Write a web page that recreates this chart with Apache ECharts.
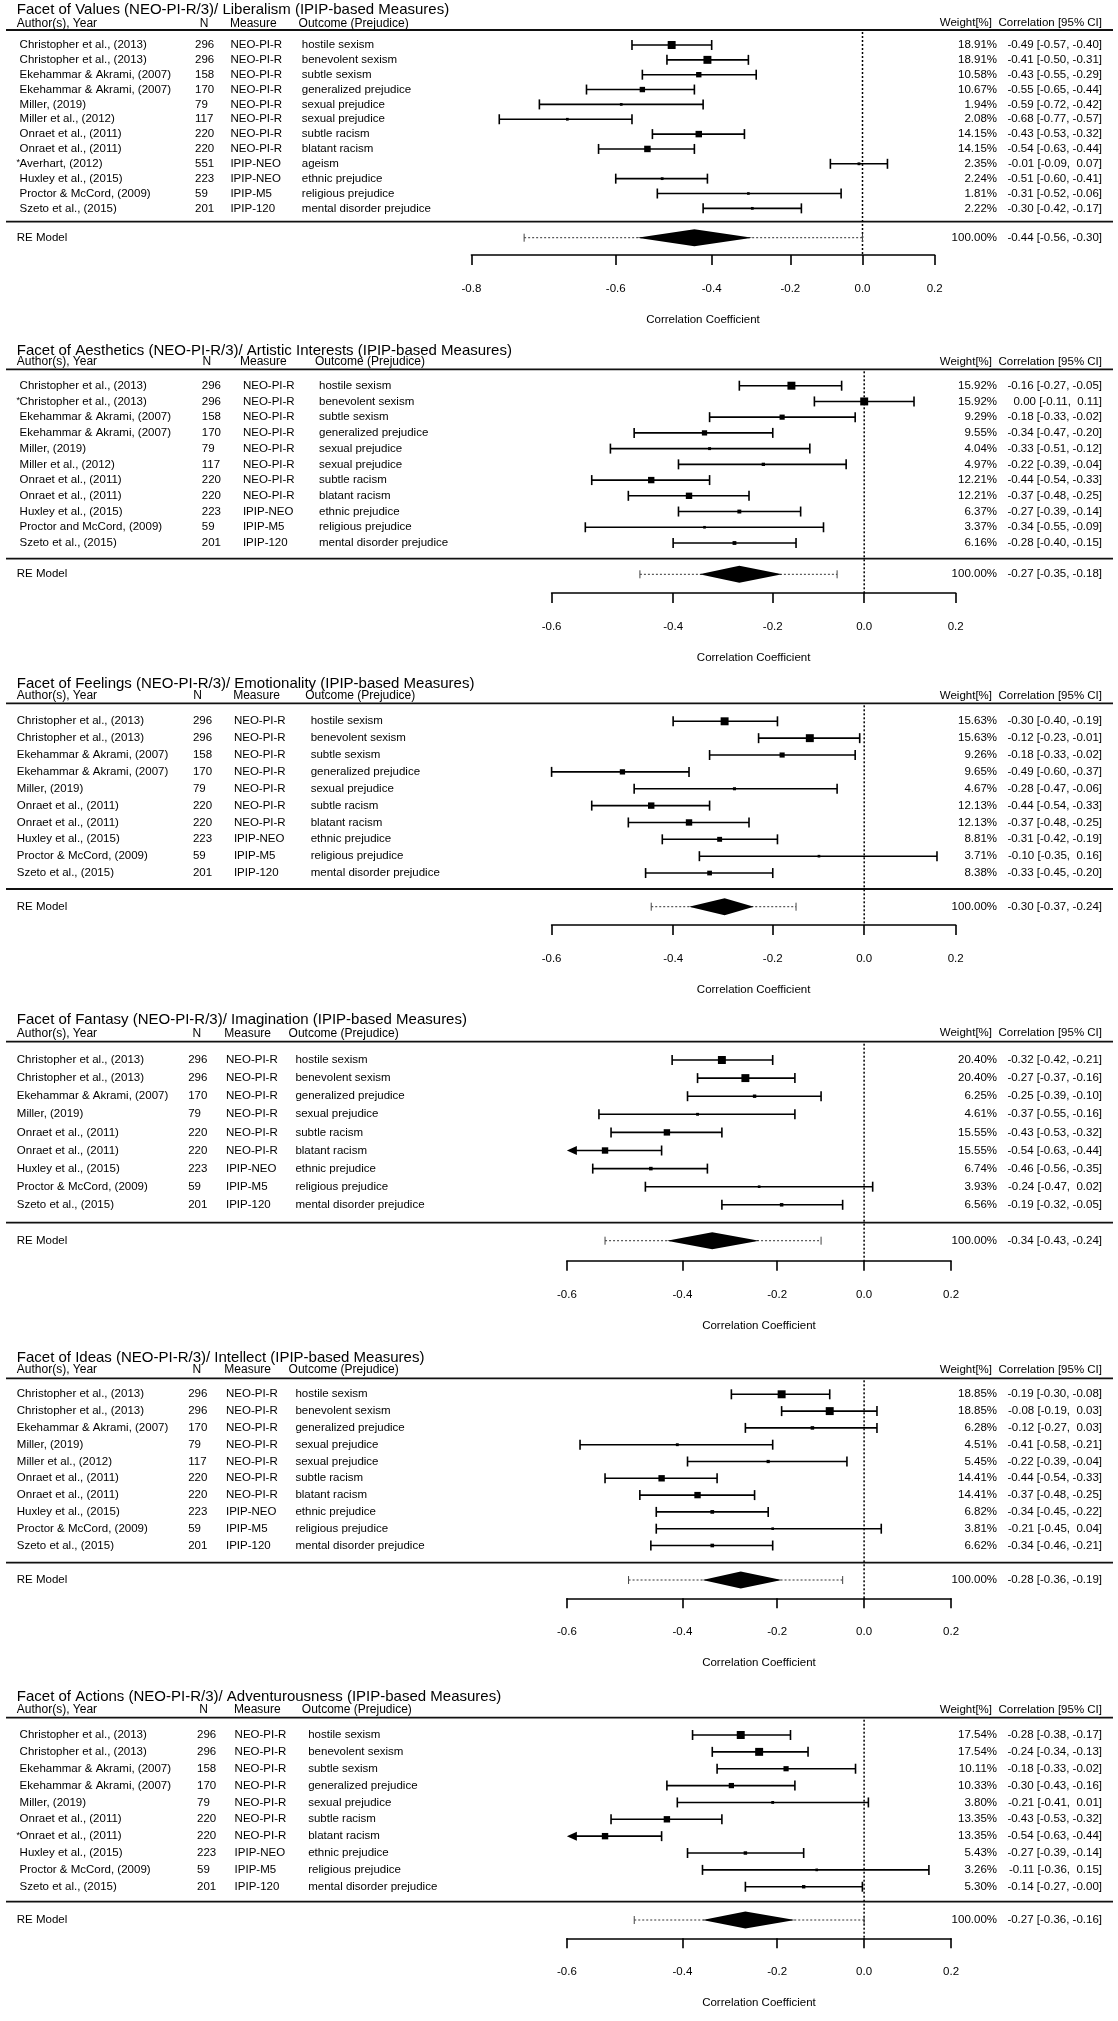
<!DOCTYPE html>
<html><head><meta charset="utf-8">
<script src="https://cdn.jsdelivr.net/npm/echarts@6/dist/echarts.min.js"></script>
<style>html,body{margin:0;padding:0;background:#fff}#c{width:1118px;height:2021px}</style>
</head><body><div id="c"></div>
<script>
// ---------------- DATA ----------------
const panelTitles = [
  "Facet of Values (NEO-PI-R/3)/ Liberalism (IPIP-based Measures)",
  "Facet of Aesthetics (NEO-PI-R/3)/ Artistic Interests (IPIP-based Measures)",
  "Facet of Feelings (NEO-PI-R/3)/ Emotionality (IPIP-based Measures)",
  "Facet of Fantasy (NEO-PI-R/3)/ Imagination (IPIP-based Measures)",
  "Facet of Ideas (NEO-PI-R/3)/ Intellect (IPIP-based Measures)",
  "Facet of Actions (NEO-PI-R/3)/ Adventurousness (IPIP-based Measures)"
];
const tickLabels = [
  [-0.8, -0.6, -0.4, -0.2, 0.0, 0.2],
  [-0.6, -0.4, -0.2, 0.0, 0.2],
  [-0.6, -0.4, -0.2, 0.0, 0.2],
  [-0.6, -0.4, -0.2, 0.0, 0.2],
  [-0.6, -0.4, -0.2, 0.0, 0.2],
  [-0.6, -0.4, -0.2, 0.0, 0.2]
];
const authors = [
  ["Christopher et al., (2013)","Christopher et al., (2013)","Ekehammar & Akrami, (2007)","Ekehammar & Akrami, (2007)","Miller, (2019)","Miller et al., (2012)","Onraet et al., (2011)","Onraet et al., (2011)","*Averhart, (2012)","Huxley et al., (2015)","Proctor & McCord, (2009)","Szeto et al., (2015)"],
  ["Christopher et al., (2013)","*Christopher et al., (2013)","Ekehammar & Akrami, (2007)","Ekehammar & Akrami, (2007)","Miller, (2019)","Miller et al., (2012)","Onraet et al., (2011)","Onraet et al., (2011)","Huxley et al., (2015)","Proctor and McCord, (2009)","Szeto et al., (2015)"],
  ["Christopher et al., (2013)","Christopher et al., (2013)","Ekehammar & Akrami, (2007)","Ekehammar & Akrami, (2007)","Miller, (2019)","Onraet et al., (2011)","Onraet et al., (2011)","Huxley et al., (2015)","Proctor & McCord, (2009)","Szeto et al., (2015)"],
  ["Christopher et al., (2013)","Christopher et al., (2013)","Ekehammar & Akrami, (2007)","Miller, (2019)","Onraet et al., (2011)","Onraet et al., (2011)","Huxley et al., (2015)","Proctor & McCord, (2009)","Szeto et al., (2015)"],
  ["Christopher et al., (2013)","Christopher et al., (2013)","Ekehammar & Akrami, (2007)","Miller, (2019)","Miller et al., (2012)","Onraet et al., (2011)","Onraet et al., (2011)","Huxley et al., (2015)","Proctor & McCord, (2009)","Szeto et al., (2015)"],
  ["Christopher et al., (2013)","Christopher et al., (2013)","Ekehammar & Akrami, (2007)","Ekehammar & Akrami, (2007)","Miller, (2019)","Onraet et al., (2011)","*Onraet et al., (2011)","Huxley et al., (2015)","Proctor & McCord, (2009)","Szeto et al., (2015)"]
];
const sampleN = [
  [296,296,158,170,79,117,220,220,551,223,59,201],
  [296,296,158,170,79,117,220,220,223,59,201],
  [296,296,158,170,79,220,220,223,59,201],
  [296,296,170,79,220,220,223,59,201],
  [296,296,170,79,117,220,220,223,59,201],
  [296,296,158,170,79,220,220,223,59,201]
];
const measures = [
  ["NEO-PI-R","NEO-PI-R","NEO-PI-R","NEO-PI-R","NEO-PI-R","NEO-PI-R","NEO-PI-R","NEO-PI-R","IPIP-NEO","IPIP-NEO","IPIP-M5","IPIP-120"],
  ["NEO-PI-R","NEO-PI-R","NEO-PI-R","NEO-PI-R","NEO-PI-R","NEO-PI-R","NEO-PI-R","NEO-PI-R","IPIP-NEO","IPIP-M5","IPIP-120"],
  ["NEO-PI-R","NEO-PI-R","NEO-PI-R","NEO-PI-R","NEO-PI-R","NEO-PI-R","NEO-PI-R","IPIP-NEO","IPIP-M5","IPIP-120"],
  ["NEO-PI-R","NEO-PI-R","NEO-PI-R","NEO-PI-R","NEO-PI-R","NEO-PI-R","IPIP-NEO","IPIP-M5","IPIP-120"],
  ["NEO-PI-R","NEO-PI-R","NEO-PI-R","NEO-PI-R","NEO-PI-R","NEO-PI-R","NEO-PI-R","IPIP-NEO","IPIP-M5","IPIP-120"],
  ["NEO-PI-R","NEO-PI-R","NEO-PI-R","NEO-PI-R","NEO-PI-R","NEO-PI-R","NEO-PI-R","IPIP-NEO","IPIP-M5","IPIP-120"]
];
const outcomes = [
  ["hostile sexism","benevolent sexism","subtle sexism","generalized prejudice","sexual prejudice","sexual prejudice","subtle racism","blatant racism","ageism","ethnic prejudice","religious prejudice","mental disorder prejudice"],
  ["hostile sexism","benevolent sexism","subtle sexism","generalized prejudice","sexual prejudice","sexual prejudice","subtle racism","blatant racism","ethnic prejudice","religious prejudice","mental disorder prejudice"],
  ["hostile sexism","benevolent sexism","subtle sexism","generalized prejudice","sexual prejudice","subtle racism","blatant racism","ethnic prejudice","religious prejudice","mental disorder prejudice"],
  ["hostile sexism","benevolent sexism","generalized prejudice","sexual prejudice","subtle racism","blatant racism","ethnic prejudice","religious prejudice","mental disorder prejudice"],
  ["hostile sexism","benevolent sexism","generalized prejudice","sexual prejudice","sexual prejudice","subtle racism","blatant racism","ethnic prejudice","religious prejudice","mental disorder prejudice"],
  ["hostile sexism","benevolent sexism","subtle sexism","generalized prejudice","sexual prejudice","subtle racism","blatant racism","ethnic prejudice","religious prejudice","mental disorder prejudice"]
];
const estimates = [
  [-0.49,-0.41,-0.43,-0.55,-0.59,-0.68,-0.43,-0.54,-0.01,-0.51,-0.31,-0.30],
  [-0.16,0.00,-0.18,-0.34,-0.33,-0.22,-0.44,-0.37,-0.27,-0.34,-0.28],
  [-0.30,-0.12,-0.18,-0.49,-0.28,-0.44,-0.37,-0.31,-0.10,-0.33],
  [-0.32,-0.27,-0.25,-0.37,-0.43,-0.54,-0.46,-0.24,-0.19],
  [-0.19,-0.08,-0.12,-0.41,-0.22,-0.44,-0.37,-0.34,-0.21,-0.34],
  [-0.28,-0.24,-0.18,-0.30,-0.21,-0.43,-0.54,-0.27,-0.11,-0.14]
];
const ciLower = [
  [-0.57,-0.50,-0.55,-0.65,-0.72,-0.77,-0.53,-0.63,-0.09,-0.60,-0.52,-0.42],
  [-0.27,-0.11,-0.33,-0.47,-0.51,-0.39,-0.54,-0.48,-0.39,-0.55,-0.40],
  [-0.40,-0.23,-0.33,-0.60,-0.47,-0.54,-0.48,-0.42,-0.35,-0.45],
  [-0.42,-0.37,-0.39,-0.55,-0.53,-0.63,-0.56,-0.47,-0.32],
  [-0.30,-0.19,-0.27,-0.58,-0.39,-0.54,-0.48,-0.45,-0.45,-0.46],
  [-0.38,-0.34,-0.33,-0.43,-0.41,-0.53,-0.63,-0.39,-0.36,-0.27]
];
const ciUpper = [
  [-0.40,-0.31,-0.29,-0.44,-0.42,-0.57,-0.32,-0.44,0.07,-0.41,-0.06,-0.17],
  [-0.05,0.11,-0.02,-0.20,-0.12,-0.04,-0.33,-0.25,-0.14,-0.09,-0.15],
  [-0.19,-0.01,-0.02,-0.37,-0.06,-0.33,-0.25,-0.19,0.16,-0.20],
  [-0.21,-0.16,-0.10,-0.16,-0.32,-0.44,-0.35,0.02,-0.05],
  [-0.08,0.03,0.03,-0.21,-0.04,-0.33,-0.25,-0.22,0.04,-0.21],
  [-0.17,-0.13,-0.02,-0.16,0.01,-0.32,-0.44,-0.14,0.15,-0.004]
];
const weights = [
  [18.91,18.91,10.58,10.67,1.94,2.08,14.15,14.15,2.35,2.24,1.81,2.22],
  [15.92,15.92,9.29,9.55,4.04,4.97,12.21,12.21,6.37,3.37,6.16],
  [15.63,15.63,9.26,9.65,4.67,12.13,12.13,8.81,3.71,8.38],
  [20.40,20.40,6.25,4.61,15.55,15.55,6.74,3.93,6.56],
  [18.85,18.85,6.28,4.51,5.45,14.41,14.41,6.82,3.81,6.62],
  [17.54,17.54,10.11,10.33,3.80,13.35,13.35,5.43,3.26,5.30]
];
const reEstimate = [-0.44,-0.27,-0.30,-0.34,-0.28,-0.27];
const reLower    = [-0.56,-0.35,-0.37,-0.43,-0.36,-0.36];
const reUpper    = [-0.30,-0.18,-0.24,-0.24,-0.19,-0.16];
const piLower    = [-0.74,-0.46,-0.44,-0.54,-0.50,-0.49];
const piUpper    = [0.00,-0.06,-0.15,-0.10,-0.05,0.00];

// ---------------- LAYOUT ----------------
const FONT = "'Liberation Sans', Arial, Helvetica, sans-serif";
const layout = [
  {titleY:10,    headerY:23.3,  lineTop:30,     firstRow:45,     step:14.85, lineBot:221.7,  reY:237.7,  axisY:255,    zero:862.5, scale:356,   aX:19.6, nX:195,   mX:230.4, oX:301.8, hN:204,   hM:230,   hO:298.6},
  {titleY:351,   headerY:361.7, lineTop:369.3,  firstRow:385.7,  step:15.73, lineBot:558.7,  reY:574.3,  axisY:593,    zero:864.2, scale:451,   aX:19.6, nX:201.8, mX:242.9, oX:319,   hN:206.8, hM:240,   hO:315},
  {titleY:684.3, headerY:696,   lineTop:703.3,  firstRow:721.3,  step:16.86, lineBot:889,    reY:906.7,  axisY:925,    zero:864.2, scale:451,   aX:16.8, nX:192.9, mX:233.9, oX:310.7, hN:197.5, hM:233.2, hO:305.2},
  {titleY:1020,  headerY:1033.3,lineTop:1041.7, firstRow:1060,   step:18.1,  lineBot:1222.7, reY:1240.7, axisY:1260.7, zero:864.1, scale:428.8, aX:16.8, nX:188.2, mX:226,   oX:295.4, hN:196.8, hM:224.3, hO:288.6},
  {titleY:1357.5,headerY:1370,  lineTop:1378.3, firstRow:1394.3, step:16.8,  lineBot:1562.7, reY:1580,   axisY:1598.3, zero:864.1, scale:428.8, aX:16.8, nX:188.2, mX:226,   oX:295.4, hN:196.8, hM:224.3, hO:288.6},
  {titleY:1696.7,headerY:1710,  lineTop:1717.7, firstRow:1735,   step:16.86, lineBot:1901.7, reY:1920,   axisY:1938.3, zero:864.1, scale:428.8, aX:19.6, nX:197,   mX:234.6, oX:308.2, hN:203.6, hM:234,   hO:301.8}
];
const W_RIGHT = 997, C_RIGHT = 1102, LINE_L = 6, LINE_R = 1113;
const ROW_FONT = '11.5px ' + FONT;
const atanh = v => 0.5 * Math.log((1 + v) / (1 - v));
const fmt = v => { const s = v.toFixed(2); return s.charAt(0) === '-' ? s : ' ' + s; };
const ciText = (e, l, h) => fmt(e).trim() + ' [' + fmt(l) + ', ' + fmt(h) + ']';

function txt(text, x, y, align, font) {
  return {type:'text', x:x, y:y, silent:true,
    style:{text:text, fill:'#000', font:font || ROW_FONT, align:align || 'left', verticalAlign:'middle',
           textAlign:align || 'left', textVerticalAlign:'middle'}};
}
function seg(x1, y1, x2, y2, w, dash, color) {
  return {type:'line', silent:true, shape:{x1:x1, y1:y1, x2:x2, y2:y2},
    style:{stroke:color || '#000', lineWidth:w || 1.5, lineDash:dash || null}};
}

const grids = [], xAxes = [], yAxes = [], series = [], graphics = [];

layout.forEach((L, p) => {
  const ticks = tickLabels[p];
  const zMin = atanh(ticks[0]), zMax = atanh(ticks[ticks.length - 1]);
  const gLeft = L.zero + L.scale * zMin;
  const gWidth = L.scale * (zMax - zMin);
  const gHeight = L.axisY - L.lineTop;
  const yMin = 1 - (L.firstRow - L.lineTop) / L.step;
  const yMax = yMin + gHeight / L.step;
  const yBot = yMin + (L.lineBot - L.lineTop) / L.step;
  const yRE = yMin + (L.reY - L.lineTop) / L.step;
  const ticksZ = ticks.map(atanh);

  grids.push({left:gLeft, top:L.lineTop, width:gWidth, height:gHeight, containLabel:false, outerBoundsMode:'none'});
  xAxes.push({
    type:'value', gridIndex:p, min:zMin, max:zMax, position:'bottom',
    axisLine:{show:true, onZero:false, lineStyle:{color:'#000', width:1.6}},
    axisTick:{show:true, length:10, inside:false, customValues:ticksZ, lineStyle:{color:'#000', width:1.6}},
    axisLabel:{show:true, customValues:ticksZ, margin:28, color:'#000', fontSize:11.5, fontFamily:FONT,
      formatter: v => { let best = ticks[0]; ticks.forEach(t => { if (Math.abs(atanh(t) - v) < Math.abs(atanh(best) - v)) best = t; }); return best.toFixed(1); }},
    splitLine:{show:false},
    name:'Correlation Coefficient', nameLocation:'middle', nameGap:59,
    nameTextStyle:{color:'#000', fontSize:11.5, fontFamily:FONT}
  });
  yAxes.push({type:'value', gridIndex:p, show:false, inverse:true, min:yMin, max:yMax});

  // titles and headers
  graphics.push(txt(panelTitles[p], 16.8, L.titleY, 'left', '15px ' + FONT));
  graphics.push(txt('Author(s), Year', 16.8, L.headerY, 'left', '12px ' + FONT));
  graphics.push(txt('N', L.hN, L.headerY, 'center', '12px ' + FONT));
  graphics.push(txt('Measure', L.hM, L.headerY, 'left', '12px ' + FONT));
  graphics.push(txt('Outcome (Prejudice)', L.hO, L.headerY, 'left', '12px ' + FONT));
  graphics.push(txt('Weight[%]', 992, L.headerY, 'right', '11.5px ' + FONT));
  graphics.push(txt('Correlation [95% CI]', C_RIGHT, L.headerY, 'right', '11.5px ' + FONT));

  const wMin = Math.min.apply(null, weights[p]), wMax = Math.max.apply(null, weights[p]);

  // study rows
  series.push({
    type:'custom', xAxisIndex:p, yAxisIndex:p, clip:false, silent:true,
    encode:{x:[0,1,2], y:3},
    data: estimates[p].map((r, i) => [atanh(r), atanh(ciLower[p][i]), atanh(ciUpper[p][i]), i + 1, i]),
    renderItem: (params, api) => {
      const i = api.value(4), row = api.value(3);
      const pe = api.coord([api.value(0), row]);
      const pl = api.coord([api.value(1), row]);
      const ph = api.coord([api.value(2), row]);
      const pm = api.coord([zMin, row]);
      const y = pe[1];
      const ch = [];
      const arrow = ciLower[p][i] < ticks[0];
      const lx = arrow ? pm[0] : pl[0];
      ch.push(seg(arrow ? lx + 9 : lx, y, ph[0], y, 1.6));
      if (arrow) {
        ch.push({type:'polygon', silent:true, shape:{points:[[lx, y], [lx + 10, y - 4.5], [lx + 10, y + 4.5]]}, style:{fill:'#000'}});
      } else {
        ch.push(seg(lx, y - 5, lx, y + 5, 1.6));
      }
      ch.push(seg(ph[0], y - 5, ph[0], y + 5, 1.6));
      const s = 5.3 * (0.5 + (weights[p][i] - wMin) / (wMax - wMin));
      ch.push({type:'rect', silent:true, shape:{x:pe[0] - s / 2, y:y - s / 2, width:s, height:s}, style:{fill:'#000'}});
      let a = authors[p][i];
      if (a.charAt(0) === '*') { ch.push(txt('*', L.aX - 3.2, y - 1, 'left', '9px ' + FONT)); a = a.slice(1); }
      ch.push(txt(a, L.aX, y));
      ch.push(txt(String(sampleN[p][i]), L.nX, y));
      ch.push(txt(measures[p][i], L.mX, y));
      ch.push(txt(outcomes[p][i], L.oX, y));
      ch.push(txt(weights[p][i].toFixed(2) + '%', W_RIGHT, y, 'right'));
      ch.push(txt(ciText(estimates[p][i], ciLower[p][i], ciUpper[p][i]), C_RIGHT, y, 'right'));
      return {type:'group', children:ch};
    }
  });

  // RE model row + separators + zero line
  series.push({
    type:'custom', xAxisIndex:p, yAxisIndex:p, clip:false, silent:true,
    encode:{x:[0,1,2,3,4], y:5},
    data:[[atanh(reEstimate[p]), atanh(reLower[p]), atanh(reUpper[p]), atanh(piLower[p]), atanh(piUpper[p]), yRE]],
    renderItem: (params, api) => {
      const yr = api.value(5);
      const pe = api.coord([api.value(0), yr]);
      const pl = api.coord([api.value(1), yr]);
      const ph = api.coord([api.value(2), yr]);
      const ql = api.coord([api.value(3), yr]);
      const qh = api.coord([api.value(4), yr]);
      const z0 = api.coord([0, yMin]);
      const zb = api.coord([0, yMax]);
      const yT = api.coord([0, yMin])[1];
      const yB = api.coord([0, yBot])[1];
      const y = pe[1];
      const ch = [];
      ch.push(seg(LINE_L, yT, LINE_R, yT, 1.8, null, '#111'));
      ch.push(seg(LINE_L, yB, LINE_R, yB, 1.8, null, '#111'));
      ch.push(seg(z0[0], yT + 2, zb[0], zb[1], 1.5, [2, 2]));
      ch.push(seg(ql[0], y, qh[0], y, 1, [2, 2], '#333'));
      ch.push(seg(ql[0], y - 4, ql[0], y + 4, 1, null, '#444'));
      ch.push(seg(qh[0], y - 4, qh[0], y + 4, 1, null, '#444'));
      ch.push({type:'polygon', silent:true,
        shape:{points:[[pl[0], y], [pe[0], y - 8.5], [ph[0], y], [pe[0], y + 8.5]]}, style:{fill:'#000'}});
      ch.push(txt('RE Model', 16.8, y));
      ch.push(txt('100.00%', W_RIGHT, y, 'right'));
      ch.push(txt(ciText(reEstimate[p], reLower[p], reUpper[p]), C_RIGHT, y, 'right'));
      return {type:'group', children:ch};
    }
  });
});

const chart = echarts.init(document.getElementById('c'), null, {renderer:'canvas'});
chart.setOption({
  backgroundColor:'#fff',
  animation:false,
  grid:grids, xAxis:xAxes, yAxis:yAxes, series:series,
  graphic:{elements:graphics}
});
</script>
</body></html>
